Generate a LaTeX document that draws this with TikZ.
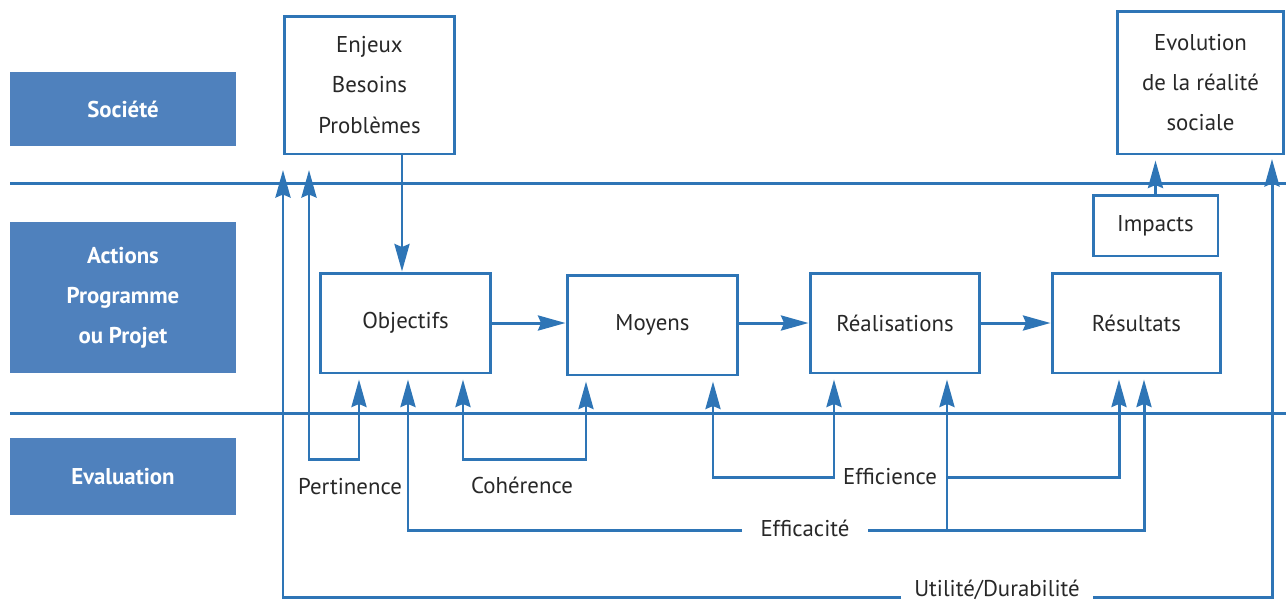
\documentclass[tikz,border=0pt]{standalone}
\usepackage{fontspec}
\setmainfont{PT Sans}
\usetikzlibrary{arrows.meta,calc}
\definecolor{lineblue}{RGB}{46,117,182}
\definecolor{bandblue}{RGB}{79,129,189}
\definecolor{txt}{RGB}{40,40,40}
\begin{document}
\begin{tikzpicture}[x=0.02cm,y=-0.02cm,
  every node/.style={text=txt, font=\fontsize{13}{22.8}\selectfont, align=center},
  box/.style={draw=lineblue, line width=1.7pt, fill=white, inner sep=0pt},
  band/.style={fill=bandblue, inner sep=0pt, minimum width=4.52cm,
    text=white, font=\bfseries\fontsize{13}{22.8}\selectfont},
  wire/.style={draw=lineblue, line width=1.7pt},
  tip/.style={-{Stealth[length=0.55cm,width=0.3cm,inset=0.06cm]}},
  tips/.style={{Stealth[length=0.55cm,width=0.3cm,inset=0.06cm]}-{Stealth[length=0.55cm,width=0.3cm,inset=0.06cm]}}
]
\useasboundingbox (0,0) rectangle (1286,603);

% level bands on the left
\node[band, minimum height=1.48cm] (soc) at (123,109) {Société};
\node[band, minimum height=3.02cm] (act) at (123,297.5) {Actions\\Programme\\ou Projet};
\node[band, minimum height=1.54cm] (eva) at (123,476.5) {Evaluation};

% separating lines
\coordinate (l1a) at (10,183); \coordinate (l1b) at (1286,183);
\coordinate (l2a) at (10,413); \coordinate (l2b) at (1286,413);
\draw[wire] (l1a) -- (l1b);
\draw[wire] (l2a) -- (l2b);

% boxes
\node[box, minimum width=3.42cm, minimum height=2.76cm] (enj) at (369.5,85) {Enjeux\\Besoins\\Problèmes};
\node[box, minimum width=3.34cm, minimum height=2.86cm] (evo) at (1200.5,82.5) {Evolution\\de la réalité\\sociale};
\node[box, minimum width=2.5cm, minimum height=1.22cm] (imp) at (1155.5,225.5) {Impacts};
\node[box, minimum width=3.42cm, minimum height=2cm] (obj) at (405.5,323) {Objectifs};
\node[box, minimum width=3.42cm, minimum height=2cm] (moy) at (652.5,325) {Moyens};
\node[box, minimum width=3.4cm, minimum height=2cm] (rea) at (895,323) {Réalisations};
\node[box, minimum width=3.38cm, minimum height=2cm] (res) at (1136.5,323) {Résultats};

% main chain
\draw[wire, tip] (obj.east) -- (moy.west |- obj.east);
\draw[wire, tip] (moy.east |- rea.west) -- (rea.west);
\draw[wire, tip] (rea.east) -- (res.west);
\coordinate (xe) at (402,0);
\draw[wire, tip] (enj.south -| xe) -- (obj.north -| xe);
\draw[wire, tip, shorten >=0.1cm] (imp.north) -- (evo.south -| imp.north);

% evaluation criteria
\coordinate (topS) at (0,170);
\coordinate (topE) at (0,159);

% Pertinence
\coordinate (pL) at (309,459); \coordinate (pR) at (359,459);
\draw[wire, tips, shorten <=0.1cm] (obj.south -| pR) -- (pR) -- (pL) -- (pL |- topS);
\node (pert) at (350,487) {Pertinence};

% Cohérence
\coordinate (cL) at (463,459); \coordinate (cR) at (586,459);
\draw[wire, tips, shorten <=0.1cm, shorten >=0.1cm] (obj.south -| cL) -- (cL) -- (cR) -- (cR |- moy.south);
\node (coh) at (522,485) {Cohérence};

% Efficience
\coordinate (fL) at (713,477); \coordinate (fM) at (834,477);
\coordinate (fJ) at (947,477); \coordinate (fR) at (1119,477);
\draw[wire, tips, shorten <=0.1cm, shorten >=0.1cm] (moy.south -| fL) -- (fL) -- (fM) -- (fM |- rea.south);
\draw[wire, tip, shorten >=0.1cm] (fJ) -- (fR) -- (fR |- res.south);
\node (effi) at (890,477) {Efficience};

% Efficacité
\coordinate (aL) at (408,530); \coordinate (aG) at (742,530);
\coordinate (aH) at (868,530); \coordinate (aJ) at (947,530); \coordinate (aR) at (1144,530);
\draw[wire, tip, shorten >=0.1cm] (aG) -- (aL) -- (aL |- obj.south);
\draw[wire, tip, shorten >=0.1cm] (aH) -- (aR) -- (aR |- res.south);
\draw[wire, tip, shorten >=0.1cm] (aJ) -- (aJ |- rea.south);
\node (effa) at (805,528) {Efficacité};

% Utilité / Durabilité
\coordinate (uL) at (283,597); \coordinate (uG) at (901,597);
\coordinate (uH) at (1093,597); \coordinate (uR) at (1272,597);
\draw[wire, tip] (uG) -- (uL) -- (uL |- topS);
\draw[wire, tip] (uH) -- (uR) -- (uR |- topE);
\node (util) at (997,590) {Utilité/Durabilité};
\end{tikzpicture}
\end{document}
